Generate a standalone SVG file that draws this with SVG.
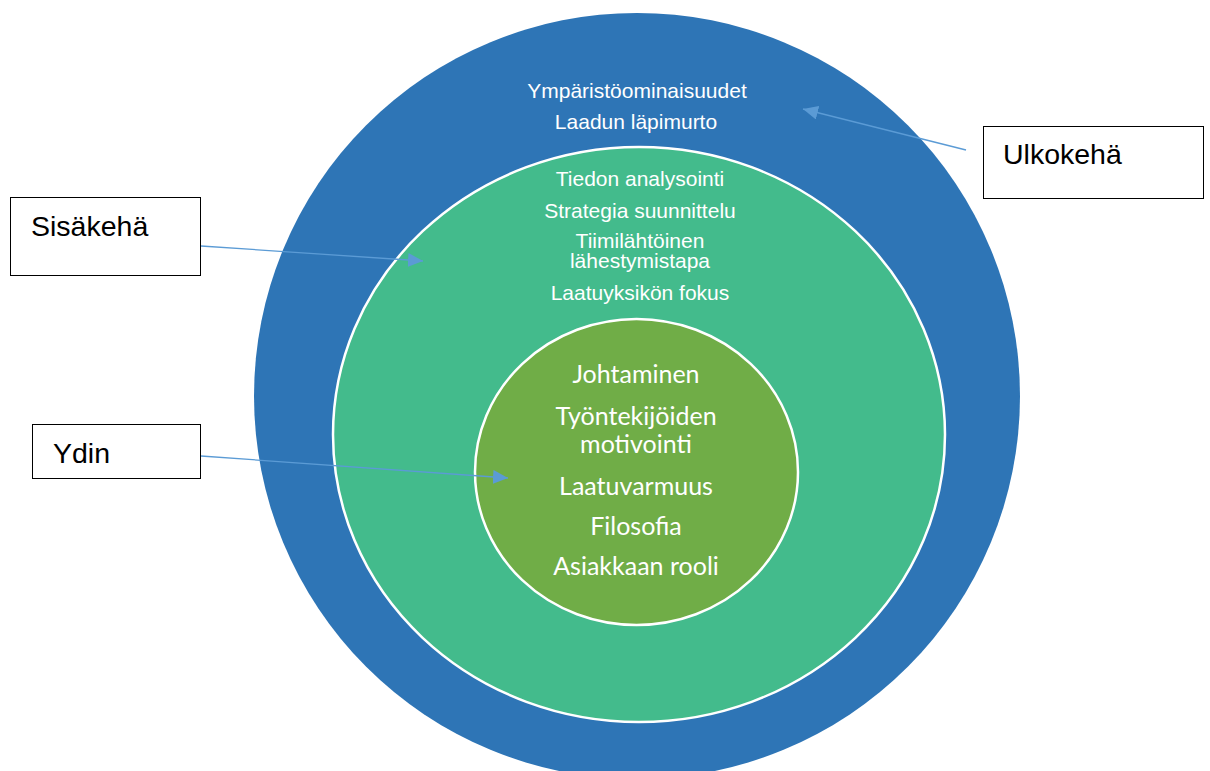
<svg xmlns="http://www.w3.org/2000/svg" width="1210" height="771" viewBox="0 0 1210 771">
  <style>
    .ring { font-family: "Liberation Sans", Arial, sans-serif; font-size: 21px; fill: #ffffff; text-anchor: middle; }
    .core { font-family: Lato, "Open Sans", sans-serif; font-size: 25px; fill: #ffffff; text-anchor: middle; }
    .lbl { font-family: "Liberation Sans", Arial, sans-serif; font-size: 28.5px; fill: #000000; }
    .box { fill: #ffffff; stroke: #000000; stroke-width: 1; }
    .conn { stroke: #5B9BD5; stroke-width: 1.3; fill: none; marker-end: url(#arr); }
  </style>
  <defs>
    <marker id="arr" viewBox="0 0 15 14" refX="15" refY="7" markerWidth="15" markerHeight="14" markerUnits="userSpaceOnUse" orient="auto">
      <path d="M0,0 L15,7 L0,14 z" fill="#5B9BD5"/>
    </marker>
  </defs>
  <rect width="1210" height="771" fill="#ffffff"/>

  <g id="ulkokeha">
    <circle cx="637" cy="396" r="383" fill="#2E75B6"/>
    <text class="ring" x="637" y="98">Ympäristöominaisuudet</text>
    <text class="ring" x="636" y="129">Laadun läpimurto</text>
  </g>

  <g id="sisakeha">
    <ellipse cx="639" cy="434.5" rx="306" ry="287.5" fill="#43BB8C" stroke="#ffffff" stroke-width="2.5"/>
    <text class="ring" x="640" y="186">Tiedon analysointi</text>
    <text class="ring" x="640" y="218">Strategia suunnittelu</text>
    <text class="ring" x="640" y="248">Tiimilähtöinen</text>
    <text class="ring" x="640" y="268">lähestymistapa</text>
    <text class="ring" x="640" y="300">Laatuyksikön fokus</text>
  </g>

  <g id="ydin">
    <ellipse cx="636.5" cy="472" rx="161.5" ry="153" fill="#70AD47" stroke="#ffffff" stroke-width="2.5"/>
    <text class="core" x="636" y="383">Johtaminen</text>
    <text class="core" x="636" y="425">Työntekijöiden</text>
    <text class="core" x="636" y="453">motivointi</text>
    <text class="core" x="636" y="495">Laatuvarmuus</text>
    <text class="core" x="636" y="535">Filosofia</text>
    <text class="core" x="636" y="575">Asiakkaan rooli</text>
  </g>

  <g id="label-sisakeha">
    <rect class="box" x="10.5" y="197.5" width="190" height="78"/>
    <text class="lbl" x="31" y="236">Sisäkehä</text>
  </g>

  <g id="label-ydin">
    <rect class="box" x="32.5" y="424.5" width="168" height="54"/>
    <text class="lbl" x="53" y="463">Ydin</text>
  </g>

  <g id="label-ulkokeha">
    <rect class="box" x="983.5" y="126.5" width="220" height="72"/>
    <text class="lbl" x="1003" y="164">Ulkokehä</text>
  </g>

  <g id="connectors">
    <line class="conn" x1="201" y1="246" x2="423" y2="261"/>
    <line class="conn" x1="201" y1="456" x2="508" y2="478"/>
    <line class="conn" x1="966" y1="150" x2="803" y2="109"/>
  </g>
</svg>
